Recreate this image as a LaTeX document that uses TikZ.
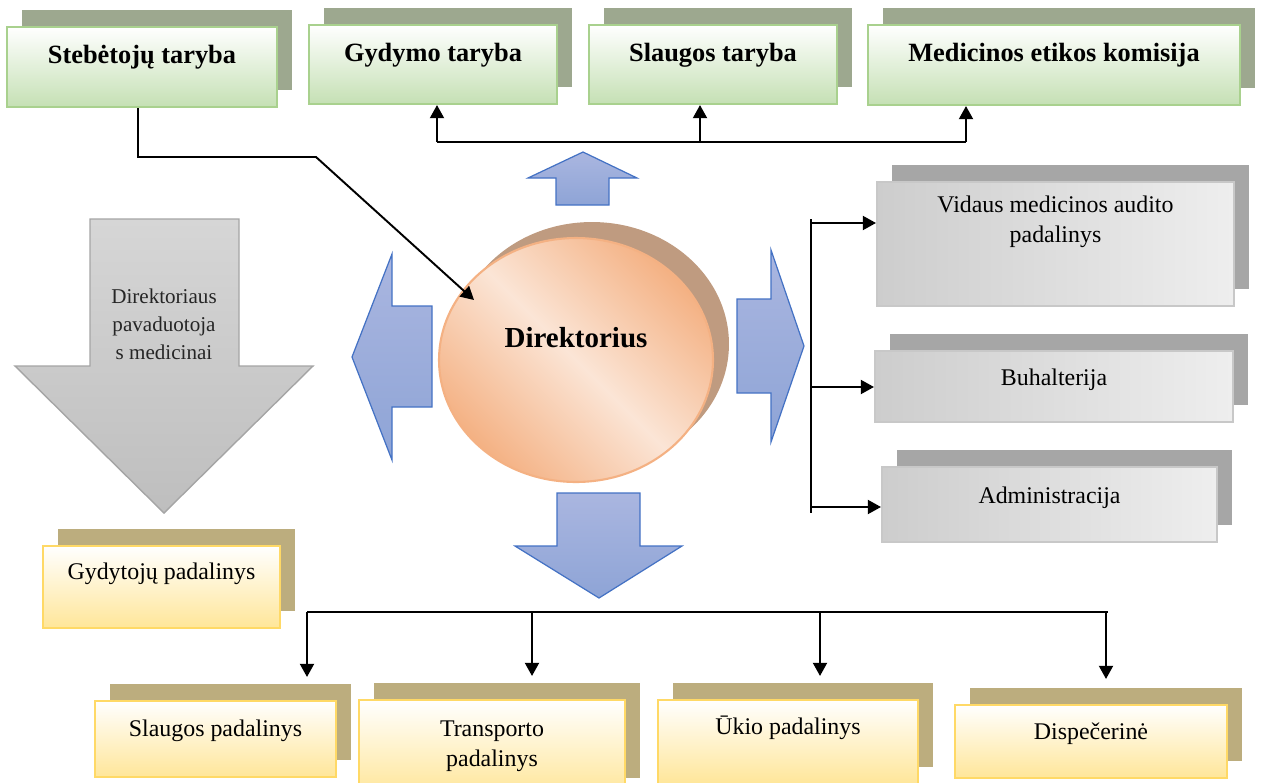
\documentclass[tikz,border=0pt]{standalone}
\usepackage{fontspec}
\setmainfont{Liberation Serif}
\usetikzlibrary{arrows.meta,shapes.geometric,shadows}

\definecolor{greenshadow}{RGB}{157,168,143}
\definecolor{greenedge}{RGB}{169,209,142}
\definecolor{greenfill}{RGB}{197,224,180}
\definecolor{yellowshadow}{RGB}{188,173,126}
\definecolor{yellowedge}{RGB}{255,217,102}
\definecolor{yellowfill}{RGB}{255,230,153}
\definecolor{grayshadow}{RGB}{166,166,166}
\definecolor{grayedge}{RGB}{200,200,200}
\definecolor{graydark}{RGB}{205,205,205}
\definecolor{graylight}{RGB}{238,238,238}
\definecolor{peach}{RGB}{244,177,131}
\definecolor{peachlight}{RGB}{251,229,214}
\definecolor{peachshadow}{RGB}{191,155,128}
\definecolor{blueedge}{RGB}{68,114,196}
\definecolor{bluetop}{RGB}{170,182,224}
\definecolor{bluebottom}{RGB}{142,164,214}
\definecolor{bigtop}{RGB}{214,214,214}
\definecolor{bigbottom}{RGB}{190,190,190}
\definecolor{bigedge}{RGB}{165,165,165}

\begin{document}
\begin{tikzpicture}[x=0.02cm,y=-0.02cm,>={Triangle[length=7.5pt,width=8pt]}]
    % structure of the hospital
    \tikzset{greenbox/.style = {shape=rectangle,draw=greenedge,line width=1.2pt,
        top color=white,bottom color=greenfill,inner sep=0pt,
        general shadow={fill=greenshadow,shadow xshift=0.3cm,shadow yshift=0.34cm},
        font=\fontsize{15}{18}\selectfont\bfseries,text height=10.5pt,text depth=14pt}}
    \tikzset{graybox/.style = {shape=rectangle,draw=grayedge,line width=1.2pt,
        left color=graydark,right color=graylight,inner sep=0pt,align=center,
        general shadow={fill=grayshadow,shadow xshift=0.3cm,shadow yshift=0.34cm},
        font=\fontsize{13.6}{17}\selectfont,text height=9.5pt,text depth=11pt}}
    \tikzset{yellowbox/.style = {shape=rectangle,draw=yellowedge,line width=1.2pt,
        top color=white,bottom color=yellowfill,inner sep=0pt,align=center,
        general shadow={fill=yellowshadow,shadow xshift=0.3cm,shadow yshift=0.34cm},
        font=\fontsize{13.6}{17}\selectfont,text height=9.5pt,text depth=12pt}}
    \tikzset{director/.style = {shape=ellipse,draw=peach,line width=1.2pt,inner sep=0pt,
        top color=peach,bottom color=peach,middle color=peachlight,shading angle=-45,
        general shadow={fill=peachshadow,shadow xshift=0.32cm,shadow yshift=0.32cm},
        font=\fontsize{16.5}{20}\selectfont\bfseries,text height=11.5pt,text depth=26pt}}
    \tikzset{blockarrow/.style = {draw=blueedge,line width=0.7pt,top color=bluetop,bottom color=bluebottom}}
    \tikzset{bigarrow/.style = {draw=bigedge,line width=0.8pt,top color=bigtop,bottom color=bigbottom}}
    \tikzset{wire/.style = {line width=1.1pt}}
    \tikzset{pre/.style = {->,line width=1.1pt}}

    \useasboundingbox (0,0) rectangle (1262,782);

    % councils
    \node[greenbox,minimum width=5.4cm,minimum height=1.6cm,text depth=15pt] (steb) at (142,67) {Stebėtojų taryba};
    \node[greenbox,minimum width=4.96cm,minimum height=1.58cm] (gyd) at (433,64.5) {Gydymo taryba};
    \node[greenbox,minimum width=4.96cm,minimum height=1.58cm] (slt) at (713,64.5) {Slaugos taryba};
    \node[greenbox,minimum width=7.44cm,minimum height=1.6cm,text depth=15pt] (mek) at (1054,65) {Medicinos etikos komisija};

    % director
    \node[director,minimum width=5.48cm,minimum height=4.88cm] (dir) at (576,360) {Direktorius};

    % block arrows round the director
    \draw[blockarrow] (583,152) -- (637,178) -- (609,178) -- (609,205) -- (556,205) -- (556,178) -- (528,178) -- cycle;
    \draw[blockarrow] (352,357) -- (392,254) -- (392,306) -- (432,306) -- (432,407) -- (392,407) -- (392,460) -- cycle;
    \draw[blockarrow] (804,346) -- (771,250) -- (771,299) -- (737,299) -- (737,393) -- (771,393) -- (771,442) -- cycle;
    \draw[blockarrow] (557,493) -- (640,493) -- (640,546) -- (682,546) -- (599,598) -- (515,546) -- (557,546) -- cycle;

    % deputy
    \draw[bigarrow] (90,219) -- (239,219) -- (239,366) -- (313,366) -- (164,513) -- (15,366) -- (90,366) -- cycle;
    \node[align=center,text=black!85,font=\fontsize{12}{15.9}\selectfont] (pav) at (164,324)
        {Direktoriaus\\pavaduotoja\\s medicinai};
    \node[yellowbox,minimum width=4.74cm,minimum height=1.64cm,text depth=17.5pt] (gyt) at (161.5,587) {Gydytojų padalinys};

    % right units
    \node[graybox,minimum width=7.14cm,minimum height=2.48cm] (vid) at (1055.5,244)
        {Vidaus medicinos audito\\padalinys};
    \node[graybox,minimum width=7.16cm,minimum height=1.42cm] (buh) at (1054,386.5) {Buhalterija};
    \node[graybox,minimum width=6.7cm,minimum height=1.5cm] (adm) at (1049.5,504.5) {Administracija};

    % bottom units
    \node[yellowbox,minimum width=4.82cm,minimum height=1.52cm] (slp) at (215.5,739) {Slaugos padalinys};
    \node[yellowbox,minimum width=5.32cm,minimum height=1.9cm,text height=22pt,text depth=0pt] (trp) at (492,747.5)
        {Transporto\\padalinys};
    \node[yellowbox,minimum width=5.2cm,minimum height=1.68cm,text depth=17.5pt] (ukp) at (788,742) {Ūkio padalinys};
    \node[yellowbox,minimum width=5.44cm,minimum height=1.46cm] (dis) at (1091,741.5) {Dispečerinė};

    % top bus
    \coordinate (t1) at (437,142);
    \coordinate (t2) at (700,142);
    \coordinate (t3) at (966,142);
    \draw[wire] (t1) -- (t3);
    \draw[pre] (t1) -- (t1 |- gyd.south);
    \draw[pre] (t2) -- (t2 |- slt.south);
    \draw[pre] (t3) -- (t3 |- mek.south);

    % supervisory board to director
    \coordinate (s1) at (138,157);
    \coordinate (s2) at (316,157);
    \coordinate (s3) at (474,300);
    \draw[pre] (s1 |- steb.south) -- (s1) -- (s2) -- (s3);

    % right bracket
    \coordinate (r0) at (811,219);
    \coordinate (r1) at (811,223);
    \coordinate (r2) at (811,387);
    \coordinate (r3) at (811,507);
    \coordinate (r4) at (811,513);
    \draw[wire] (r0) -- (r4);
    \draw[pre] (r1) -- (r1 -| vid.west);
    \draw[pre] (r2) -- (r2 -| buh.west);
    \draw[pre] (r3) -- (r3 -| adm.west);

    % bottom bus
    \coordinate (b1) at (307,612);
    \coordinate (b2) at (532,612);
    \coordinate (b3) at (820,612);
    \coordinate (b4) at (1106,612);
    \draw[wire] (b1) -- (1108,612);
    \draw[pre,shorten >=0.46cm] (b1) -- (b1 |- slp.north);
    \draw[pre,shorten >=0.46cm] (b2) -- (b2 |- trp.north);
    \draw[pre,shorten >=0.46cm] (b3) -- (b3 |- ukp.north);
    \draw[pre,shorten >=0.5cm] (b4) -- (b4 |- dis.north);
\end{tikzpicture}
\end{document}
